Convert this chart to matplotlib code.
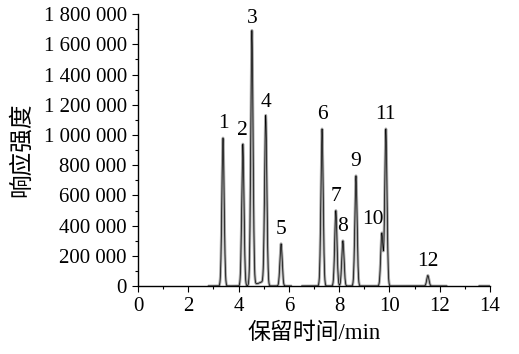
import numpy as np
import matplotlib
matplotlib.use("Agg")
import matplotlib.pyplot as plt
from matplotlib.ticker import MultipleLocator, FuncFormatter

plt.rcParams['font.family'] = ['Liberation Serif', 'Noto Sans CJK SC']

# Peak table
peak_ids = ['1', '2', '3', '4', '5', '6', '7', '8', '9', '10', '11', '12']
peak_rt = [3.38, 4.17, 4.53, 5.08, 5.69, 7.32, 7.87, 8.15, 8.67, 9.70, 9.86, 11.53]
peak_height = [980000, 940000, 1680000, 1120000, 280000, 1040000, 500000, 300000,
               730000, 350000, 1040000, 70000]
# minor features (broad front of peak 4, small bump)
minor_rt = [4.60, 4.92]
minor_height = [15000, 25000]
# acquisition windows (min) for the grey traces
segments = [(2.78, 6.12), (6.50, 12.30), (13.55, 14.0)]

label_dx = [0, 0, 0, 0, 0, 0, 0, 0, 0, -0.35, 0, 0]

fig = plt.figure(figsize=(5.19, 3.54), dpi=100)
ax = fig.add_axes([0.266, 0.192, 0.678, 0.768])

def trace(t):
    y = np.zeros_like(t)
    for rt, h in zip(peak_rt, peak_height):
        y += h * np.exp(-0.5 * ((t - rt) / 0.045) ** 2)
    for rt, h in zip(minor_rt, minor_height):
        y += h * np.exp(-0.5 * ((t - rt) / 0.12) ** 2)
    return y

for a, b in segments:
    t = np.linspace(a, b, 3000)
    y = trace(t)
    ax.plot(t, y, color='#a6a6a6', lw=2.0, solid_capstyle='butt', zorder=2)
    ax.plot(t, y, color='black', lw=0.5, zorder=3)

for lab, rt, h, dx in zip(peak_ids, peak_rt, peak_height, label_dx):
    ax.text(rt + dx, h + 30000, lab, ha='center', va='bottom', fontsize=15.5,
            family=['Liberation Serif'])

ax.set_xlim(0, 14)
ax.set_ylim(0, 1800000)
ax.xaxis.set_major_locator(MultipleLocator(2))
ax.xaxis.set_minor_locator(MultipleLocator(1))
ax.yaxis.set_major_locator(MultipleLocator(200000))
ax.yaxis.set_minor_locator(MultipleLocator(100000))

def fmt(v, pos):
    s = f"{int(round(v)):,}".replace(',', ' ')
    return s
ax.yaxis.set_major_formatter(FuncFormatter(fmt))

for s in ['top', 'right']:
    ax.spines[s].set_visible(False)
for s in ['left', 'bottom']:
    ax.spines[s].set_linewidth(1.0)
ax.tick_params(which='major', direction='out', length=4, width=0.8, labelsize=15, pad=4)
ax.tick_params(which='minor', direction='out', length=2.5, width=0.8)

ax.set_xlabel('保留时间/min', fontsize=16.5, labelpad=5, fontweight='light')
ax.set_ylabel('响应强度', fontsize=17, labelpad=8, fontweight='light')

fig.savefig('out.png', dpi=100)
